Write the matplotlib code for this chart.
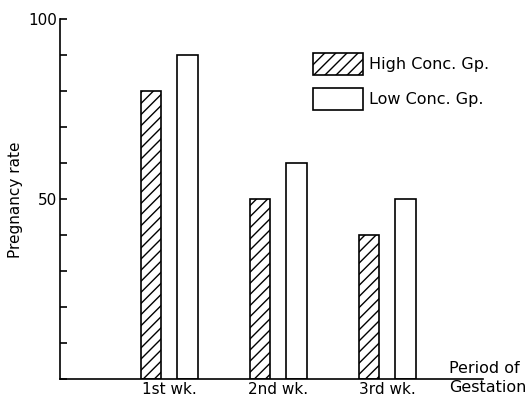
import numpy as np
import matplotlib.pyplot as plt

# Pregnancy rate by week of gestation
weeks = ["1st wk.", "2nd wk.", "3rd wk."]
high_conc = [80, 50, 40]
low_conc = [90, 60, 50]

plt.rcParams['hatch.linewidth'] = 1.0

fig = plt.figure(figsize=(5.27, 3.99), dpi=100)
ax = fig.add_axes([0.114, 0.05, 0.803, 0.902])

x = np.arange(1, len(weeks) + 1)
w = 0.19
off = 0.167
ax.bar(x - off, high_conc, w, facecolor='white', edgecolor='black',
       hatch='///', linewidth=1.2, label="High Conc. Gp.")
ax.bar(x + off, low_conc, w, facecolor='white', edgecolor='black',
       linewidth=1.2, label="Low Conc. Gp.")

ax.set_xlim(0, 3.88)
ax.set_ylim(0, 100)

for s in ['top', 'right']:
    ax.spines[s].set_visible(False)
ax.spines['left'].set_linewidth(1.2)
ax.spines['bottom'].set_linewidth(1.2)

ax.set_yticks(np.arange(0, 101, 10))
ax.set_yticklabels(["50" if v == 50 else "100" if v == 100 else "" for v in range(0, 101, 10)])
ax.tick_params(axis='y', direction='in', length=5, width=1.2, labelsize=11, pad=2)
ax.set_xticks(x)
ax.set_xticklabels(weeks, fontsize=11)
ax.tick_params(axis='x', length=0, pad=2)

fig.text(16 / 527, 0.5, "Pregnancy rate", rotation=90, ha='center', va='center',
         fontsize=11)

ax.legend(loc='upper left', bbox_to_anchor=(0.598, 0.906), frameon=False,
          handlelength=3.1, handleheight=1.75, labelspacing=0.8,
          borderpad=0, borderaxespad=0, handletextpad=0.4, fontsize=11.5)

fig.text(0.852, 0.052, "Period of\nGestation", ha='left', va='center',
         fontsize=11.5, linespacing=1.3)

fig.savefig("out.png", dpi=100)
